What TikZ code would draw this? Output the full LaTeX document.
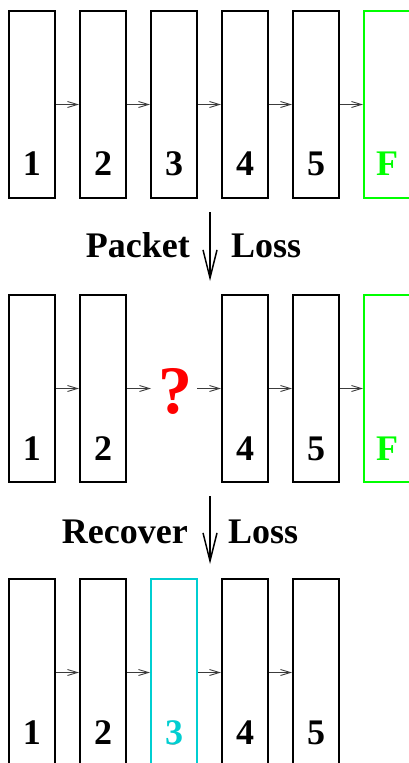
\documentclass[tikz,border=0pt]{standalone}
\usepackage{fontspec}
\setmainfont{Liberation Serif}
\usetikzlibrary{arrows.meta}
\definecolor{fgreen}{RGB}{0,255,0}
\definecolor{fcyan}{RGB}{0,206,209}
\definecolor{conngray}{RGB}{60,60,60}
\tikzset{
  pbox/.style={draw, line width=2pt, minimum width=46pt, minimum height=187pt, inner sep=0pt},
  plabel/.style={font=\fontsize{36}{40}\selectfont\bfseries, anchor=base, inner sep=0pt},
  ttext/.style={font=\fontsize{36}{40}\selectfont\bfseries, inner sep=0pt},
  conn/.style={draw=conngray, line width=0.9pt, -{Straight Barb[length=10pt,width=6pt]}},
  bigarrow/.style={draw, line width=1.5pt, -{Straight Barb[length=28pt,width=14pt]}}
}
\begin{document}
\begin{tikzpicture}[x=1pt,y=-1pt]
\clip (0,0) rectangle (409,763);
\fill[white] (0,0) rectangle (409,763);
% Row 1
\foreach \i/\t in {1/1,2/2,3/3,4/4,5/5}{
  \node[pbox] (a\i) at ({32+71*(\i-1)},104.5) {};
  \node[plabel] (la\i) at ({32+71*(\i-1)},175) {\t};
}
\node[pbox, draw=fgreen] (a6) at (387,104.5) {};
\node[plabel, text=fgreen] (la6) at (387,175) {F};
\foreach \i [evaluate=\i as \j using int(\i+1)] in {1,...,5}{
  \draw[conn] (a\i.east) -- (a\j.west);
}
% Arrow 1
\coordinate (p1) at (210,212);
\coordinate (p2) at (210,281);
\draw[bigarrow] (p1) -- (p2);
\node[ttext, anchor=base east] (pk) at (190,257) {Packet};
\node[ttext, anchor=base west] (ls1) at (231,257) {Loss};
% Row 2
\foreach \i in {1,2,4,5}{
  \node[pbox] (b\i) at ({32+71*(\i-1)},388.5) {};
  \node[plabel] (lb\i) at ({32+71*(\i-1)},460) {\i};
}
\node[pbox, draw=fgreen] (b6) at (387,388.5) {};
\node[plabel, text=fgreen] (lb6) at (387,460) {F};
\coordinate (b3w) at (151,388.5);
\coordinate (b3e) at (197,388.5);
\node[font=\fontsize{68}{70}\selectfont\bfseries, text=red, anchor=base, inner sep=0pt] (q) at (175,413) {?};
\draw[conn] (b1.east) -- (b2.west);
\draw[conn] (b2.east) -- (b3w);
\draw[conn] (b3e) -- (b4.west);
\draw[conn] (b4.east) -- (b5.west);
\draw[conn] (b5.east) -- (b6.west);
% Arrow 2
\coordinate (r1) at (210,496);
\coordinate (r2) at (210,564);
\draw[bigarrow] (r1) -- (r2);
\node[ttext, anchor=base east] (rc) at (188,543) {Recover};
\node[ttext, anchor=base west] (ls2) at (228,543) {Loss};
% Row 3
\foreach \i in {1,2,3,4,5}{
  \node[pbox] (c\i) at ({32+71*(\i-1)},672.5) {};
  \node[plabel] (lc\i) at ({32+71*(\i-1)},744) {\i};
}
\node[pbox, draw=fcyan] at (c3) {};
\node[plabel, text=fcyan, fill=white] at (174,744) {3};
\foreach \i [evaluate=\i as \j using int(\i+1)] in {1,...,4}{
  \draw[conn] (c\i.east) -- (c\j.west);
}
\end{tikzpicture}
\end{document}
